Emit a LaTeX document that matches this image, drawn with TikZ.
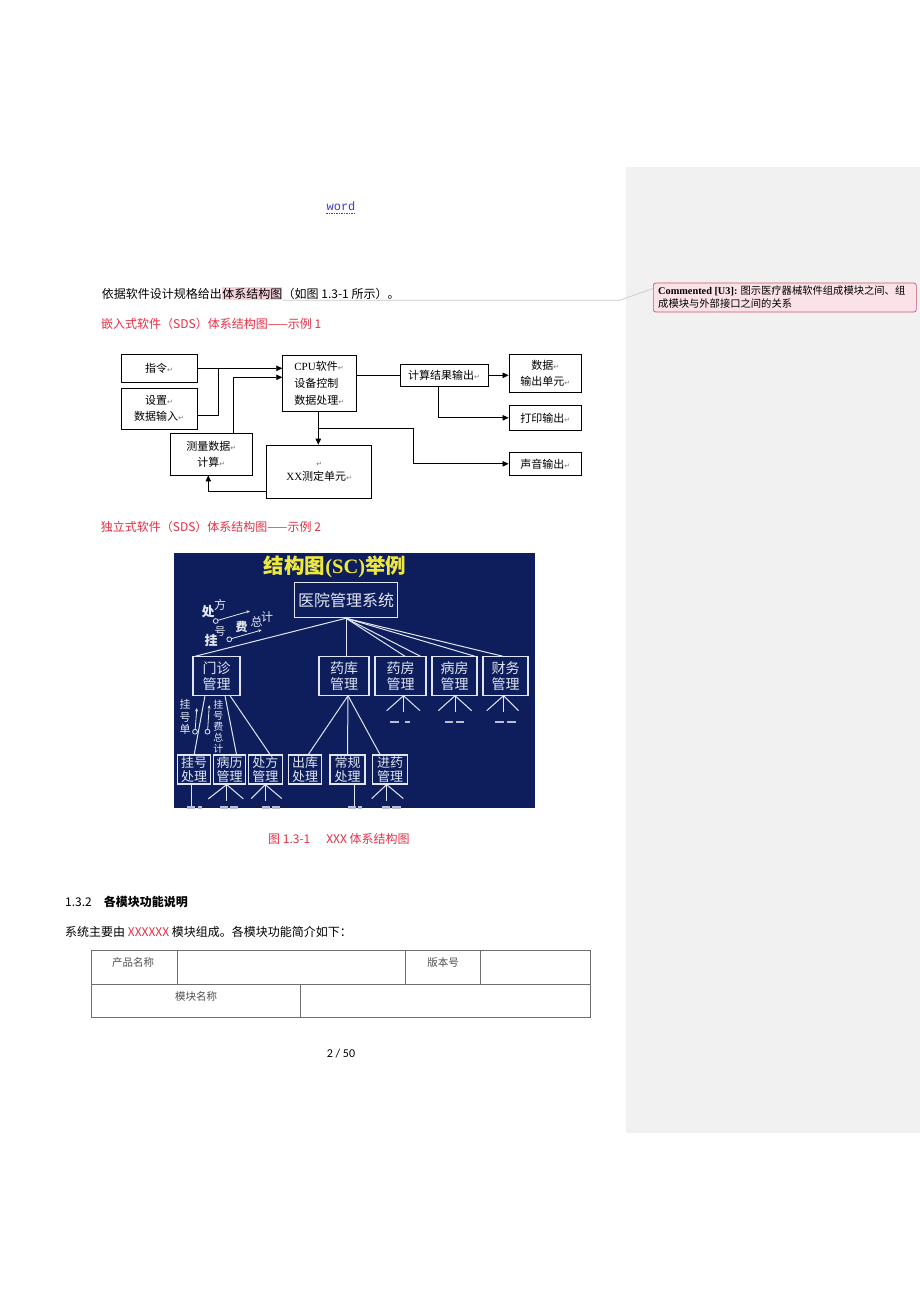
\documentclass[tikz,border=0pt]{standalone}
\usepackage{fontspec}
\setmainfont{Noto Sans CJK SC}
\newfontfamily\serifLat{Liberation Serif}
\newfontfamily\monoLat{Liberation Mono}
\newfontfamily\symfont{DejaVu Sans}
\newfontfamily\pagefont{Carlito}
\usetikzlibrary{arrows.meta,calc}
\definecolor{panelgray}{RGB}{241,241,241}
\definecolor{docred}{RGB}{228,48,70}
\definecolor{hlpink}{RGB}{246,208,218}
\definecolor{cfill}{RGB}{250,226,232}
\definecolor{cborder}{RGB}{205,85,110}
\definecolor{navy}{RGB}{14,30,92}
\definecolor{ltwhite}{RGB}{225,230,242}
\definecolor{ttlyellow}{RGB}{238,232,62}
\definecolor{linkblue}{RGB}{60,60,205}
\definecolor{retgray}{RGB}{120,120,120}
\definecolor{tblgray}{RGB}{110,110,110}
\definecolor{tbltext}{RGB}{80,80,80}
\definecolor{cline}{RGB}{200,200,205}
\newcommand{\retmark}{{\symfont\fontsize{7}{7}\selectfont\textcolor{retgray}{↵}}}
\begin{document}
\begin{tikzpicture}[x=1pt,y=-1pt,
  fbox/.style={draw=black, line width=0.8pt, inner sep=0pt, align=center, font=\fontsize{11}{16.7}\selectfont},
  arr/.style={line width=0.8pt, -{Triangle[length=6pt,width=5.5pt]}},
  ln/.style={line width=0.8pt},
  bbox/.style={draw=ltwhite, line width=1.1pt, inner sep=0pt, align=center, text=ltwhite},
  l2/.style={bbox, minimum height=38.3pt, font=\fontsize{14}{16.5}\selectfont},
  l3/.style={bbox, minimum height=29pt, font=\fontsize{13}{14.3}\selectfont},
  bln/.style={draw=ltwhite, line width=1pt},
  barr/.style={draw=ltwhite, line width=0.8pt, -{Stealth[length=3.5pt,width=3pt]}},
  ann/.style={inner sep=0pt, text=ltwhite},
  dsh/.style={draw=ltwhite!80!navy, line width=1.6pt},
  txt/.style={inner sep=0pt, anchor=base west, font=\fontsize{12}{12}\selectfont},
  tbl/.style={draw=tblgray, line width=0.8pt},
  tt/.style={inner sep=0pt, text=tbltext, font=\fontsize{10.5}{10.5}\selectfont},
  cl/.style={draw=cline, line width=0.7pt}
]
\useasboundingbox (0,0) rectangle (920,1302);
\fill[white] (0,0) rectangle (920,1302);
\fill[panelgray] (626,167) rectangle (920,1133);

% header
\node[inner sep=0pt, font=\monoLat\fontsize{12}{12}\selectfont, text=linkblue] (wd) at (341,206) {word};
\draw[linkblue, dash pattern=on 1.5pt off 1pt, line width=0.6pt] ([yshift=-2.5pt]wd.south west) -- ([yshift=-2.5pt]wd.south east);

% first text line
\node[txt] (t1a) at (101.7,298) {依据软件设计规格给出};
\node[txt, fill=hlpink, inner ysep=1pt] (hl) at (t1a.base east) {体系结构图};
\node[txt] (t1c) at (hl.base east) {（如图 1.3-1 所示）。};

% comment
\node[draw=cborder, fill=cfill, rounded corners=2.5pt, line width=0.7pt, minimum width=263pt, minimum height=29pt, anchor=north west, inner sep=0pt] (cbox) at (653,282.7) {};
\node[anchor=west, inner sep=0pt, font=\fontsize{10.3}{12.6}\selectfont, align=left] (ctext) at (658,297) {{\serifLat\bfseries Commented [U3]:} 图示医疗器械软件组成模块之间、组\\成模块与外部接口之间的关系};
\coordinate (k1) at (620,301);
\draw[cl] (hl.south east) -- (hl.south east -| k1) -- ([yshift=9pt]cbox.west);

\node[txt, text=docred] (s1) at (101,328) {嵌入式软件（SDS）体系结构图——示例 1};

% diagram 1
\node[fbox, minimum width=76pt, minimum height=28.7pt] (zl) at (159,368.3) {指令\retmark};
\node[fbox, minimum width=76pt, minimum height=41pt] (sz) at (159,408.5) {设置\retmark\\数据输入\retmark};
\node[fbox, minimum width=73.3pt, minimum height=56.7pt, align=left] (cpu) at (319.3,383.3) {{\serifLat CPU}软件\retmark\\设备控制\\数据处理\retmark};
\node[fbox, minimum width=88pt, minimum height=22.7pt] (jg) at (444,375.3) {计算结果输出\retmark};
\node[fbox, minimum width=72.7pt, minimum height=38.7pt] (sj) at (545.3,373.3) {数据\retmark\\输出单元\retmark};
\node[fbox, minimum width=72.7pt, minimum height=24.3pt] (dy) at (545.3,417.8) {打印输出\retmark};
\node[fbox, minimum width=72.7pt, minimum height=22.3pt] (sy) at (545.3,463.8) {声音输出\retmark};
\node[fbox, minimum width=82.7pt, minimum height=41.7pt] (clj) at (211.3,454.2) {测量数据\retmark\\计算\retmark};
\node[fbox, minimum width=105pt, minimum height=53.3pt, font=\fontsize{11}{14.5}\selectfont] (xx) at (319.2,471.7) {\retmark\\{\serifLat XX}测定单元\retmark};

\coordinate (j1) at (218.3,368.3);
\draw[arr] (zl.east) -- (zl.east -| cpu.west);
\draw[ln] ([yshift=-6.5pt]sz.east) -| (j1);
\coordinate (j2) at (233.3,377.3);
\draw[arr] (clj.north -| j2) |- (j2 -| cpu.west);
\draw[ln] (cpu.east |- jg.west) -- (jg.west);
\draw[arr] (jg.east) -- (jg.east -| sj.west);
\coordinate (j3) at (438.3,386.7);
\draw[arr] (jg.south -| j3) |- (dy.west);
\coordinate (j4) at (318.3,411.7);
\draw[arr] (cpu.south -| j4) -- (xx.north -| j4);
\coordinate (j5) at (318.3,428.3);
\coordinate (j6) at (413.3,428.3);
\draw[arr] (j5) -- (j6) |- (sy.west);
\coordinate (j7) at (208.3,491.7);
\draw[arr] (xx.west |- j7) -- (j7) -- (j7 |- clj.south);

\node[txt, text=docred] (s2) at (100.7,531.3) {独立式软件（SDS）体系结构图——示例 2};

% diagram 2 (blue picture)
\fill[navy] (174,553) rectangle (535,808);
\node[inner sep=0pt, text=ttlyellow, font=\bfseries\fontsize{20.5}{20.5}\selectfont] (ttl) at (335,567) {结构图{\serifLat\bfseries (SC)}举例};
\node[bbox, minimum width=103.4pt, minimum height=35.4pt, font=\fontsize{16}{16}\selectfont] (root) at (346,600) {医院管理系统};

\node[l2, minimum width=47pt] (mz) at (216.5,676) {门诊\\管理};
\node[l2, minimum width=50pt] (yk) at (344,676) {药库\\管理};
\node[l2, minimum width=51pt] (yf) at (400.5,676) {药房\\管理};
\node[l2, minimum width=45pt] (bf) at (454.5,676) {病房\\管理};
\node[l2, minimum width=45pt] (cw) at (505.5,676) {财务\\管理};

\node[l3, minimum width=33pt] (gh) at (194.2,769.5) {挂号\\处理};
\node[l3, minimum width=32.4pt] (blg) at (229.5,769.5) {病历\\管理};
\node[l3, minimum width=34pt] (cfg) at (265.3,769.5) {处方\\管理};
\node[l3, minimum width=33.4pt] (ck) at (305,769.5) {出库\\处理};
\node[l3, minimum width=35pt] (cg) at (347.5,769.5) {常规\\处理};
\node[l3, minimum width=35.4pt] (jy) at (390,769.5) {进药\\管理};

% root links
\draw[bln] (root.south) -- ([xshift=-21.5pt]mz.north);
\draw[bln] (root.south) -- (root.south |- yk.north);
\draw[bln] (root.south) -- ([xshift=4.5pt]yf.north);
\draw[bln] (root.south) -- ([xshift=20pt]yf.north);
\draw[bln] (root.south) -- ([xshift=20.5pt]bf.north);
\draw[bln] (root.south) -- ([xshift=-2.5pt]cw.north);

% level 2 -> level 3
\draw[bln] ([xshift=-11.5pt]mz.south) -- (gh.north);
\draw[bln] ([xshift=8.5pt]mz.south) -- ([xshift=7pt]blg.north);
\draw[bln] ([xshift=13.5pt]mz.south) -- ([xshift=4.7pt]cfg.north);
\draw[bln] ([xshift=4pt]yk.south) -- ([xshift=3.3pt]ck.north);
\draw[bln] ([xshift=4pt]yk.south) -- (cg.north);
\draw[bln] ([xshift=4pt]yk.south) -- ([xshift=-10pt]jy.north);

% stubs under level 2
\draw[bln] ([xshift=3pt]yf.south) -- ++(-16.8,15);
\draw[bln] ([xshift=3pt]yf.south) -- ++(16.5,15);
\draw[bln] ([xshift=3pt]yf.south) -- ++(0,16.7);
\draw[bln] ([xshift=0.5pt]bf.south) -- ++(-16.7,15);
\draw[bln] ([xshift=0.5pt]bf.south) -- ++(16.7,15);
\draw[bln] ([xshift=0.5pt]bf.south) -- ++(0,16.7);
\draw[bln] ([xshift=-2pt]cw.south) -- ++(-16.8,15);
\draw[bln] ([xshift=-2pt]cw.south) -- ++(15,15);
\draw[bln] ([xshift=-2pt]cw.south) -- ++(0,16.7);
\draw[dsh] ([shift={(-10.5,26)}]yf.south) -- ++(9,0);
\draw[dsh] ([shift={(4.5,26)}]yf.south) -- ++(5,0);
\draw[dsh] ([shift={(-9.5,26)}]bf.south) -- ++(8,0);
\draw[dsh] ([shift={(1.5,26)}]bf.south) -- ++(7.5,0);
\draw[dsh] ([shift={(-10.5,26)}]cw.south) -- ++(9,0);
\draw[dsh] ([shift={(1.5,26)}]cw.south) -- ++(8.5,0);

% stubs under level 3
\begin{scope}
\clip (174,553) rectangle (535,808);
\draw[bln] ([xshift=-2.5pt]gh.south) -- ++(0,21);
\draw[bln] ([xshift=-2.8pt]blg.south) -- ++(-18.4,14.3);
\draw[bln] ([xshift=-2.8pt]blg.south) -- ++(16.6,14.3);
\draw[bln] ([xshift=-2.8pt]blg.south) -- ++(0,16);
\draw[bln] (cfg.south) -- ++(-14,14);
\draw[bln] (cfg.south) -- ++(16.5,14);
\draw[bln] (cfg.south) -- ++(0,16);
\draw[bln] ([xshift=6.8pt]cg.south) -- ++(0,21);
\draw[bln] ([xshift=-3.3pt]jy.south) -- ++(-15,14);
\draw[bln] ([xshift=-3.3pt]jy.south) -- ++(16.6,14);
\draw[bln] ([xshift=-3.3pt]jy.south) -- ++(0,16);
\draw[dsh, line width=3pt] ([shift={(-7.5,23)}]gh.south) -- ++(8,0);
\draw[dsh, line width=3pt] ([shift={(4,23)}]gh.south) -- ++(3.5,0);
\draw[dsh, line width=3pt] ([shift={(-9.5,23)}]blg.south) -- ++(8,0);
\draw[dsh, line width=3pt] ([shift={(0.5,23)}]blg.south) -- ++(8,0);
\draw[dsh, line width=3pt] ([shift={(-3.5,23)}]cfg.south) -- ++(8,0);
\draw[dsh, line width=3pt] ([shift={(6.5,23)}]cfg.south) -- ++(8,0);
\draw[dsh, line width=3pt] ([shift={(0.5,23)}]cg.south) -- ++(8,0);
\draw[dsh, line width=3pt] ([shift={(10.5,23)}]cg.south) -- ++(4,0);
\draw[dsh, line width=3pt] ([shift={(-8.3,23)}]jy.south) -- ++(8,0);
\draw[dsh, line width=3pt] ([shift={(2,23)}]jy.south) -- ++(8.5,0);
\end{scope}

% annotations near the root
\node[ann, font=\bfseries\fontsize{13}{13}\selectfont] (a1) at (208,612) {处};
\node[ann, font=\fontsize{12}{12}\selectfont] (a2) at (220,605) {方};
\coordinate (c1) at (215.7,621);
\coordinate (e1) at (250,611);
\draw[bln, line width=0.8pt] (c1) circle[radius=2.4pt];
\draw[barr] (c1) ++(2.3,-0.7) -- (e1);
\node[ann, font=\bfseries\fontsize{13}{13}\selectfont] (a3) at (211,640) {挂};
\node[ann, font=\fontsize{11}{11}\selectfont] (a4) at (220,632) {号};
\node[ann, font=\bfseries\fontsize{12}{12}\selectfont] (a5) at (241.7,627) {费};
\node[ann, font=\fontsize{12}{12}\selectfont] (a6) at (256.7,621.7) {总};
\node[ann, font=\fontsize{12}{12}\selectfont] (a7) at (267,616.7) {计};
\coordinate (c2) at (229.3,639.3);
\coordinate (e2) at (261.7,630);
\draw[bln, line width=0.8pt] (c2) circle[radius=2.4pt];
\draw[barr] (c2) ++(2.3,-0.7) -- (e2);

% annotations under 门诊
\node[ann, font=\fontsize{11}{12.5}\selectfont, align=center] (gd) at (185,717) {挂\\号\\单};
\coordinate (c3) at (195,731.7);
\coordinate (e3) at (196.8,708);
\draw[bln, line width=0.8pt] (c3) circle[radius=2.4pt];
\draw[barr] (c3) ++(0.2,-2.4) -- (e3);
\coordinate (c4) at (207.5,731.7);
\coordinate (e4) at (209.3,705);
\draw[bln, line width=0.8pt] (c4) circle[radius=2.4pt];
\draw[barr] (c4) ++(0.2,-2.4) -- (e4);
\node[ann, font=\fontsize{10}{11}\selectfont, align=center] (gf) at (218.3,727) {挂\\号\\费\\总\\计};

% caption and section
\node[txt, text=docred] (cap) at (268,843) {图 1.3-1\hspace{16pt}XXX 体系结构图};
\node[txt] (sec) at (65,906.5) {1.3.2\hspace{12pt}{\bfseries 各模块功能说明}};
\node[txt] (intro) at (65,936.5) {系统主要由 \textcolor{docred}{XXXXXX} 模块组成。各模块功能简介如下：};

% table
\draw[tbl] (91,950.5) rectangle (590,1017);
\draw[tbl] (91,984) -- (590,984);
\draw[tbl] (177,950.5) -- (177,984);
\draw[tbl] (405,950.5) -- (405,984);
\draw[tbl] (480.5,950.5) -- (480.5,984);
\draw[tbl] (300,984) -- (300,1017);
\node[tt] (p1) at (133,963) {产品名称};
\node[tt] (p2) at (443,963) {版本号};
\node[tt] (p3) at (196,996) {模块名称};

\node[inner sep=0pt, font=\pagefont\fontsize{12}{12}\selectfont] (pg) at (341,1054) {2 / 50};
\end{tikzpicture}
\end{document}
